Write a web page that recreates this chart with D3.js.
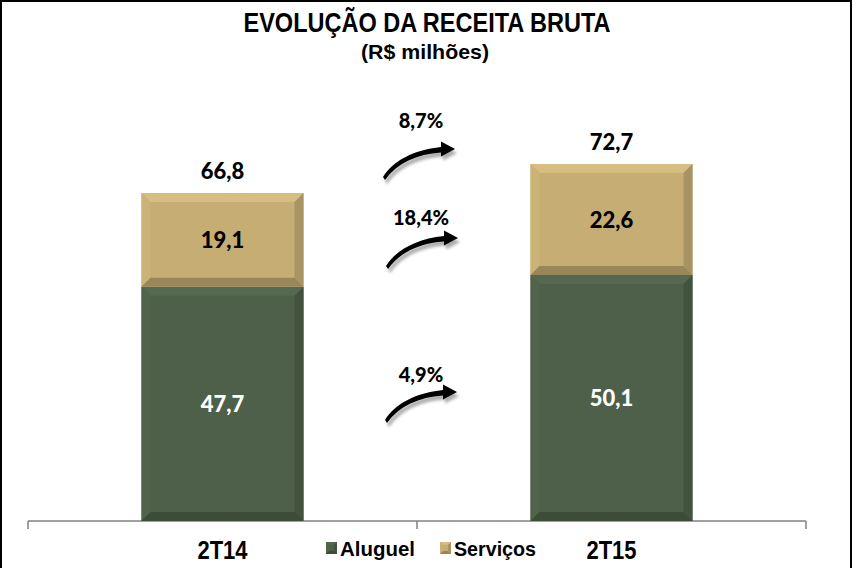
<!DOCTYPE html>
<html><head><meta charset="utf-8">
<script src="https://cdn.jsdelivr.net/npm/d3@7"></script>
<style>body{margin:0;background:#fff}svg{display:block}</style>
</head><body>
<script>
const categories = ["2T14", "2T15"];
const aluguel = [47.7, 50.1];
const servicos = [19.1, 22.6];
const totals = [66.8, 72.7];
const growthLabels = ["8,7%", "18,4%", "4,9%"];
const legendLabels = ["Aluguel", "Serviços"];

const W = 853, H = 568;
const colors = {aluguel: "#4e6049", servicos: "#c5ad74"};
const svg = d3.select("body").append("svg").attr("width", W).attr("height", H);

const defs = svg.append("defs");
defs.append("filter").attr("id", "blur").append("feGaussianBlur").attr("stdDeviation", 1.5);

// frame
svg.append("rect").attr("x", 1).attr("y", 1).attr("width", 850).attr("height", 575)
  .attr("fill", "none").attr("stroke", "#000").attr("stroke-width", 2);

const titleFont = "'Liberation Sans',sans-serif";
const numFont = "'Lato','DejaVu Sans',sans-serif";

svg.append("text").attr("x", 427).attr("y", 32).attr("text-anchor", "middle")
  .attr("font-family", titleFont).attr("font-weight", "bold").attr("font-size", 27)
  .attr("textLength", 367).attr("lengthAdjust", "spacingAndGlyphs")
  .text("EVOLUÇÃO DA RECEITA BRUTA");
svg.append("text").attr("x", 425).attr("y", 59).attr("text-anchor", "middle")
  .attr("font-family", titleFont).attr("font-weight", "bold").attr("font-size", 21)
  .attr("textLength", 128).attr("lengthAdjust", "spacingAndGlyphs")
  .text("(R$ milhões)");

const x = d3.scaleBand().domain(categories).range([28, 806]).padding(0);
const y = d3.scaleLinear().domain([0, 66.8]).range([521, 193]);
const barW = 162;

// axis
const axisG = svg.append("g").attr("transform", "translate(0,521)");
axisG.append("line").attr("x1", x.range()[0]).attr("x2", x.range()[1]).attr("stroke", "#808080").attr("stroke-width", 1.5);
const tickXs = [x(categories[0]), x(categories[1]), x(categories[1]) + x.bandwidth()];
axisG.selectAll(".tk").data(tickXs).join("line").attr("x1", d => d).attr("x2", d => d)
  .attr("y1", 0).attr("y2", 8).attr("stroke", "#808080").attr("stroke-width", 1.5);
axisG.selectAll(".cat").data(categories).join("text")
  .attr("x", d => x(d) + x.bandwidth() / 2).attr("y", 38).attr("text-anchor", "middle")
  .attr("font-family", titleFont).attr("font-weight", "bold").attr("font-size", 26)
  .attr("textLength", 50).attr("lengthAdjust", "spacingAndGlyphs")
  .text(d => d);

function shade(c, k) { return k > 0 ? d3.color(c).brighter(k).formatHex() : d3.color(c).darker(-k).formatHex(); }

function bevelRect(g, x0, y0, w, h, col, b) {
  g.append("rect").attr("x", x0).attr("y", y0).attr("width", w).attr("height", h).attr("fill", col);
  const x1 = x0 + w, y1 = y0 + h;
  const poly = (pts, c) => g.append("polygon").attr("points", pts.map(p => p.join(",")).join(" ")).attr("fill", c);
  poly([[x0, y0], [x1, y0], [x1 - b, y0 + b], [x0 + b, y0 + b]], shade(col, 0.25));
  poly([[x0, y0], [x0 + b, y0 + b], [x0 + b, y1 - b], [x0, y1]], shade(col, 0.08));
  poly([[x1, y0], [x1, y1], [x1 - b, y1 - b], [x1 - b, y0 + b]], shade(col, -0.45));
  poly([[x0, y1], [x0 + b, y1 - b], [x1 - b, y1 - b], [x1, y1]], shade(col, -0.7));
}

const barsG = svg.append("g");
categories.forEach((c, i) => {
  const cx = x(c) + x.bandwidth() / 2;
  const x0 = cx - barW / 2;
  bevelRect(barsG, x0, y(aluguel[i]), barW, y(0) - y(aluguel[i]), colors.aluguel, 9);
  bevelRect(barsG, x0, y(aluguel[i] + servicos[i]), barW, y(aluguel[i]) - y(aluguel[i] + servicos[i]), colors.servicos, 9);
  barsG.append("text").attr("x", cx).attr("y", (y(0) + y(aluguel[i])) / 2 + 8).attr("text-anchor", "middle")
    .attr("font-family", numFont).attr("font-weight", "900").attr("font-size", 22).attr("fill", "#fff").text(aluguel[i].toFixed(1).replace(".", ","));
  barsG.append("text").attr("x", cx).attr("y", (y(aluguel[i]) + y(aluguel[i] + servicos[i])) / 2 + 8).attr("text-anchor", "middle")
    .attr("font-family", numFont).attr("font-weight", "900").attr("font-size", 22).attr("fill", "#000").text(servicos[i].toFixed(1).replace(".", ","));
  barsG.append("text").attr("x", cx).attr("y", y(totals[i]) - 14).attr("text-anchor", "middle")
    .attr("font-family", numFont).attr("font-weight", "900").attr("font-size", 22).attr("fill", "#000").text(totals[i].toFixed(1).replace(".", ","));
});

// growth arrows
const arrowPath = "M0,0 C10,-16 30,-27 58,-30 L58,-35.5 L72,-28 L58,-20.5 L58,-24.5 C34,-23 14,-14 2,3 Z";
const arrows = [
  {label: growthLabels[0], tx: 383, ty: 177, ly: 128},
  {label: growthLabels[1], tx: 386, ty: 266, ly: 225},
  {label: growthLabels[2], tx: 385, ty: 420, ly: 382}
];
const arG = svg.append("g");
arrows.forEach(a => {
  const g = arG.append("g").attr("transform", `translate(${a.tx},${a.ty})`);
  g.append("path").attr("d", arrowPath).attr("fill", "#888").attr("opacity", 0.7)
    .attr("transform", "translate(2,4)").attr("filter", "url(#blur)");
  g.append("path").attr("d", arrowPath).attr("fill", "#000");
  arG.append("text").attr("x", 421).attr("y", a.ly).attr("text-anchor", "middle")
    .attr("font-family", numFont).attr("font-weight", "900").attr("font-size", 20).text(a.label);
});

// legend
const legG = svg.append("g").attr("transform", "translate(326,542)");
const legItems = [{t: legendLabels[0], c: colors.aluguel, x: 0, w: 75}, {t: legendLabels[1], c: colors.servicos, x: 114, w: 82}];
legItems.forEach(it => {
  bevelRect(legG, it.x, 0, 11, 12, it.c, 3);
  legG.append("text").attr("x", it.x + 14).attr("y", 14).attr("font-family", titleFont)
    .attr("font-weight", "bold").attr("font-size", 21)
    .attr("textLength", it.w).attr("lengthAdjust", "spacingAndGlyphs").text(it.t);
});
</script>
</body></html>
